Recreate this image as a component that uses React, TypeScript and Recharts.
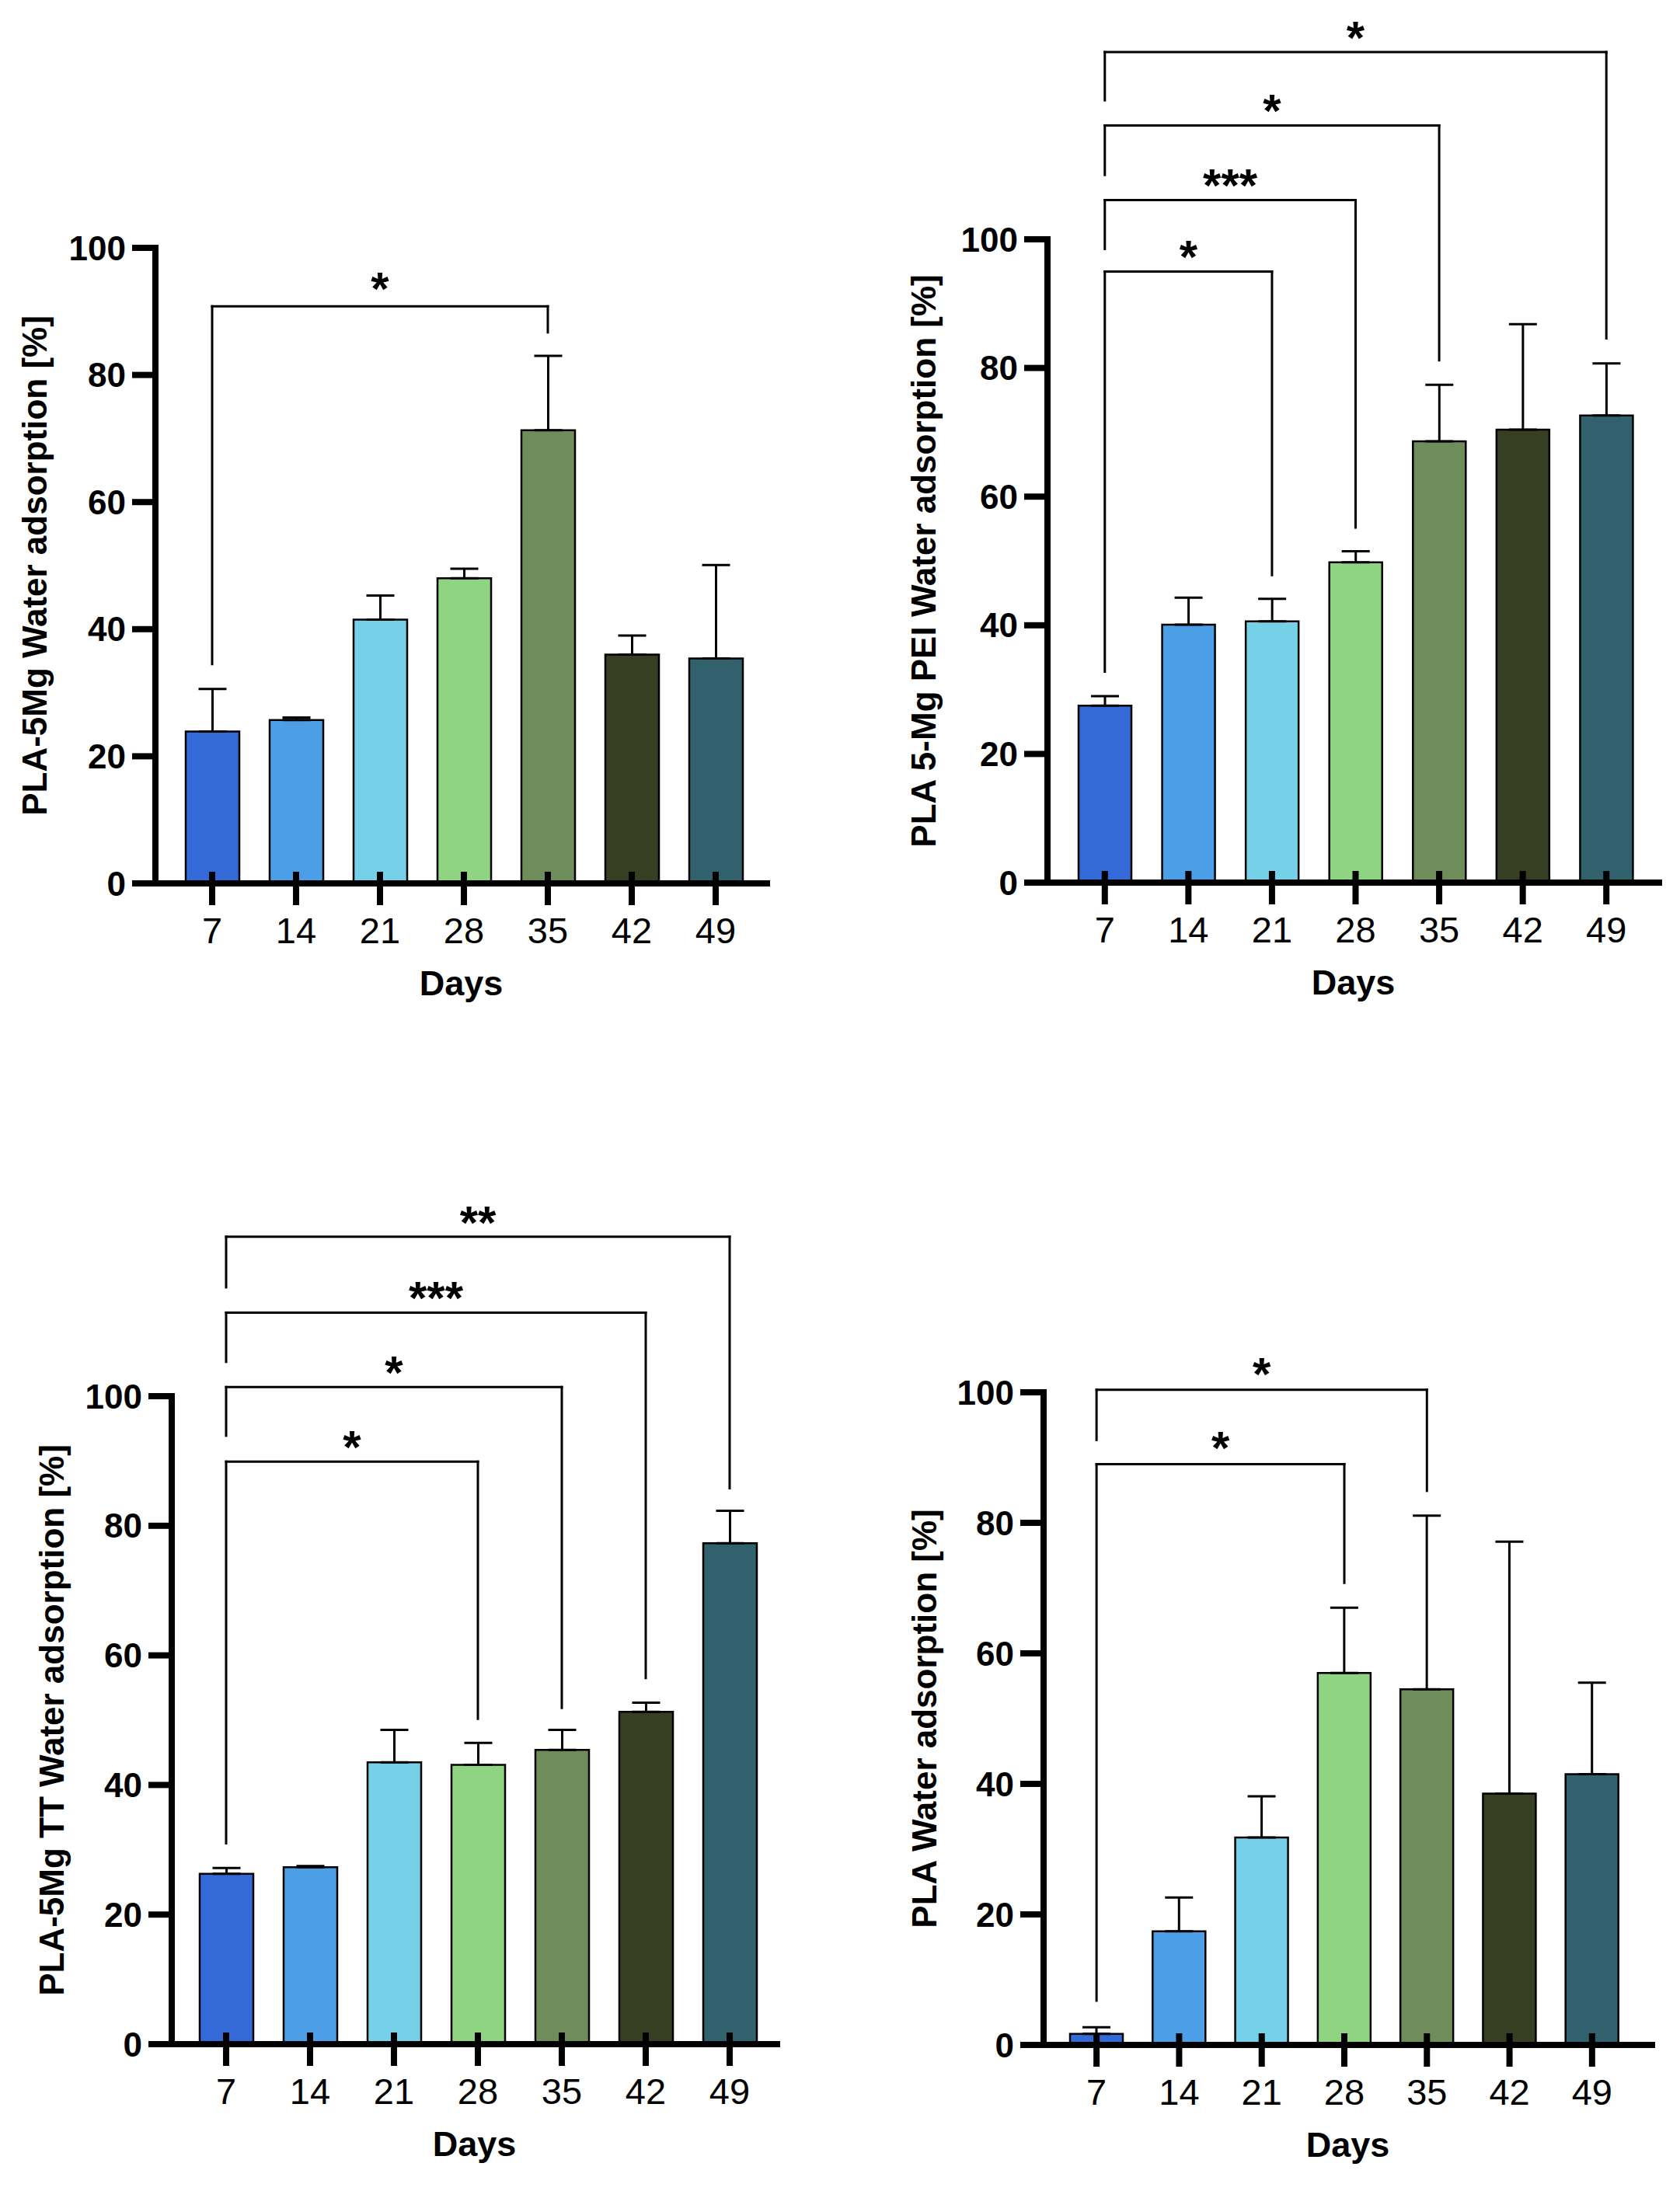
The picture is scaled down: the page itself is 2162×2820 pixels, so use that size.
import React from "react";
import { BarChart, Bar, Cell, XAxis, YAxis, ErrorBar, ReferenceLine } from "recharts";

const days = ["7", "14", "21", "28", "35", "42", "49"];
const barColors = ["#3469d8", "#4c9ee6", "#76d1e8", "#8fd480", "#6f8c5b", "#363f22", "#31616d"];
const yTicks = [0, 20, 40, 60, 80, 100];

// PLA-5Mg
const mgMean = [23.9, 25.7, 41.5, 48.0, 71.3, 36.0, 35.4];
const mgSd = [6.7, 0.4, 3.8, 1.5, 11.7, 3.0, 14.7];
// PLA 5-Mg PEI
const peiMean = [27.5, 40.1, 40.6, 49.8, 68.6, 70.4, 72.6];
const peiSd = [1.5, 4.2, 3.5, 1.7, 8.8, 16.4, 8.1];
// PLA-5Mg TT
const ttMean = [26.3, 27.3, 43.5, 43.1, 45.4, 51.3, 77.3];
const ttSd = [0.9, 0.2, 5.0, 3.4, 3.1, 1.4, 5.0];
// PLA
const plaMean = [1.7, 17.4, 31.8, 57.0, 54.5, 38.5, 41.5];
const plaSd = [1.0, 5.2, 6.3, 10.0, 26.6, 38.6, 14.0];

// significance brackets, all from day 7 (heights in % units)
type Bracket = { to: string; y: number; footL: number; footR: number; stars: string };
const mgBrackets: Bracket[] = [{ to: "35", y: 90.8, footL: 34.5, footR: 86.7, stars: "*" }];
const peiBrackets: Bracket[] = [
  { to: "21", y: 95.0, footL: 32.8, footR: 47.8, stars: "*" },
  { to: "28", y: 106.1, footL: 98.5, footR: 55.2, stars: "***" },
  { to: "35", y: 117.7, footL: 110.0, footR: 81.2, stars: "*" },
  { to: "49", y: 129.1, footL: 121.6, footR: 84.6, stars: "*" },
];
const ttBrackets: Bracket[] = [
  { to: "28", y: 89.9, footL: 31.0, footR: 50.2, stars: "*" },
  { to: "35", y: 101.4, footL: 93.9, footR: 51.9, stars: "*" },
  { to: "42", y: 112.9, footL: 105.3, footR: 56.5, stars: "***" },
  { to: "49", y: 124.6, footL: 116.8, footR: 85.8, stars: "**" },
];
const plaBrackets: Bracket[] = [
  { to: "28", y: 89.0, footL: 6.8, footR: 70.8, stars: "*" },
  { to: "35", y: 100.4, footL: 92.7, footR: 84.9, stars: "*" },
];

const FONT = '"Liberation Sans", Arial, Helvetica, sans-serif';
const W = 1081;
const H = 1410;

function DayTick(props: any) {
  const { x, y, payload } = props;
  return (
    <g>
      <line x1={x} x2={x} y1={y - 15} y2={y + 28} stroke="#000" strokeWidth={8} />
      <text x={x} y={y + 77} textAnchor="middle" fontSize={47} fontFamily={FONT} fill="#000">
        {payload.value}
      </text>
    </g>
  );
}

type PanelProps = {
  mean: number[];
  sd: number[];
  brackets: Bracket[];
  yLabel: string;
  left: number;
  top: number;
  yAxisWidth: number;
  marginTop: number;
  marginRight: number;
  marginBottom: number;
  padL: number;
  padR: number;
  barSize: number;
  labelX: number;
  starOffset: number;
};

function Panel(p: PanelProps) {
  const rows = days.map((day, i) => ({ day, mean: p.mean[i], sd: [0, p.sd[i]] }));
  const line = { stroke: "#000", strokeWidth: 3, strokeLinecap: "square" as const, ifOverflow: "visible" as const };

  return (
    <div style={{ position: "absolute", left: p.left, top: p.top }}>
      <BarChart
        width={W}
        height={H}
        data={rows}
        margin={{ top: p.marginTop, right: p.marginRight, bottom: p.marginBottom, left: 0 }}
      >
        <Bar dataKey="mean" barSize={p.barSize} stroke="#000" strokeWidth={2.5} isAnimationActive={false}>
          {rows.map((r, i) => (
            <Cell key={r.day} fill={barColors[i]} />
          ))}
          <ErrorBar dataKey="sd" direction="y" width={18} stroke="#000" strokeWidth={3} isAnimationActive={false} />
        </Bar>
        <XAxis
          dataKey="day"
          interval={0}
          height={180}
          padding={{ left: p.padL, right: p.padR }}
          axisLine={{ stroke: "#000", strokeWidth: 8, strokeLinecap: "square" }}
          tickLine={false}
          tickSize={0}
          tickMargin={0}
          tick={(tp: any) => <DayTick {...tp} />}
          label={{
            content: (lp: any) => (
              <text
                x={lp.viewBox.x + lp.viewBox.width / 2}
                y={lp.viewBox.y + 144}
                textAnchor="middle"
                fontSize={45}
                fontWeight={700}
                fontFamily={FONT}
                fill="#000"
              >
                Days
              </text>
            ),
          }}
        />
        <YAxis
          type="number"
          domain={[0, 100]}
          ticks={yTicks}
          interval={0}
          allowDataOverflow
          width={p.yAxisWidth}
          axisLine={{ stroke: "#000", strokeWidth: 8, strokeLinecap: "square" }}
          tickLine={{ stroke: "#000", strokeWidth: 8 }}
          tickSize={30}
          tickMargin={8}
          tick={{ fill: "#000", fontSize: 44, fontWeight: 700, fontFamily: FONT }}
          label={{
            content: (lp: any) => {
              const cy = lp.viewBox.y + lp.viewBox.height / 2;
              return (
                <text
                  x={p.labelX}
                  y={cy}
                  transform={`rotate(-90 ${p.labelX} ${cy})`}
                  textAnchor="middle"
                  dominantBaseline="central"
                  fontSize={44}
                  fontWeight={700}
                  fontFamily={FONT}
                  fill="#000"
                >
                  {p.yLabel}
                </text>
              );
            },
          }}
        />
        {p.brackets.flatMap((b, k) => [
          <ReferenceLine key={`l${k}`} segment={[{ x: "7", y: b.footL }, { x: "7", y: b.y }]} {...line} />,
          <ReferenceLine
            key={`h${k}`}
            segment={[{ x: "7", y: b.y }, { x: b.to, y: b.y }]}
            {...line}
            label={{
              value: b.stars,
              position: "top",
              offset: p.starOffset,
              fill: "#000",
              fontSize: 60,
              fontWeight: 700,
              fontFamily: FONT,
            }}
          />,
          <ReferenceLine key={`r${k}`} segment={[{ x: b.to, y: b.y }, { x: b.to, y: b.footR }]} {...line} />,
        ])}
      </BarChart>
    </div>
  );
}

export default function App() {
  return (
    <div style={{ position: "absolute", left: 0, top: 0, width: 2162, height: 2820, background: "#fff" }}>
      <Panel
        mean={mgMean}
        sd={mgSd}
        brackets={mgBrackets}
        yLabel="PLA-5Mg Water adsorption [%]"
        left={0}
        top={0}
        yAxisWidth={200}
        marginTop={319}
        marginRight={94}
        marginBottom={93}
        padL={19}
        padR={12}
        barSize={69}
        labelX={44}
        starOffset={2}
      />
      <Panel
        mean={peiMean}
        sd={peiSd}
        brackets={peiBrackets}
        yLabel="PLA 5-Mg PEI Water adsorption [%]"
        left={1081}
        top={0}
        yAxisWidth={267}
        marginTop={308}
        marginRight={27}
        marginBottom={94}
        padL={20}
        padR={14}
        barSize={68}
        labelX={107}
        starOffset={-2}
      />
      <Panel
        mean={ttMean}
        sd={ttSd}
        brackets={ttBrackets}
        yLabel="PLA-5Mg TT Water adsorption [%]"
        left={0}
        top={1410}
        yAxisWidth={221}
        marginTop={387}
        marginRight={81}
        marginBottom={9}
        padL={16}
        padR={7}
        barSize={69}
        labelX={66}
        starOffset={-2}
      />
      <Panel
        mean={plaMean}
        sd={plaSd}
        brackets={plaBrackets}
        yLabel="PLA Water adsorption [%]"
        left={1081}
        top={1410}
        yAxisWidth={262}
        marginTop={382}
        marginRight={36}
        marginBottom={8}
        padL={15}
        padR={24}
        barSize={68}
        labelX={108}
        starOffset={0}
      />
    </div>
  );
}
